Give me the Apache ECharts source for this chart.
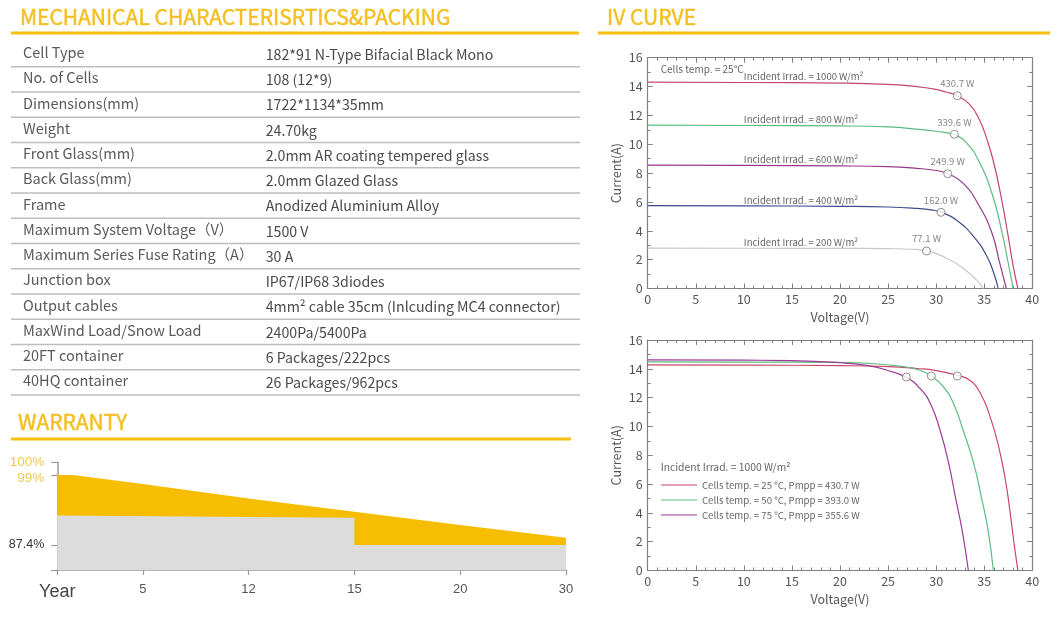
<!DOCTYPE html>
<html><head><meta charset="utf-8">
<script src="https://cdn.jsdelivr.net/npm/echarts@6/dist/echarts.min.js"></script>
<style>html,body{margin:0;padding:0;background:#fff}#c{width:1060px;height:622px}</style>
</head><body><div id="c"></div>
<script>
// ---------- Table data ----------
const specNames = ['Cell Type','No. of Cells','Dimensions(mm)','Weight','Front Glass(mm)','Back Glass(mm)','Frame',
  'Maximum System Voltage（V）','Maximum Series Fuse Rating（A）','Junction box','Output cables',
  'MaxWind Load/Snow Load','20FT container','40HQ container'];
const specValues = ['182*91 N-Type Bifacial Black Mono','108 (12*9)','1722*1134*35mm','24.70kg',
  '2.0mm AR coating tempered glass','2.0mm Glazed Glass','Anodized Aluminium Alloy','1500 V','30 A',
  'IP67/IP68 3diodes','4mm² cable 35cm (Inlcuding MC4 connector)','2400Pa/5400Pa','6 Packages/222pcs','26 Packages/962pcs'];

// ---------- Warranty data ----------
const warrantyTickPos = [0.192, 1, 2, 3, 4, 5];
const warrantyTickLabels = ['Year', '5', '12', '15', '20', '30'];
const warrantyLinear = [[0.192, 99], [0.34, 99], [1, 97.5], [2, 95.1], [3, 92.9], [4, 90.7], [5, 88.6]];
const warrantyStep = [[0.192, 92.3], [3, 91.9], [3, 87.4], [5, 87.4]];
const warrantyYTicks = [99, 87.4];
const warrantyYLabels = ['99%', '87.4%'];

// ---------- IV curve data (irradiance, 25°C) ----------
const irradLabels = ['1000', '800', '600', '400', '200'];
const iv1000 = [[0,14.3],[10,14.28],[20,14.24],[25,14.15],[28,14.0],[30,13.8],[31,13.62],[32.2,13.36],[33.5,12.75],[34.5,11.7],[35.3,10.3],[36,8.7],[36.8,6.2],[37.5,3.6],[38,1.6],[38.5,0]];
const iv800 = [[0,11.32],[10,11.3],[20,11.27],[25,11.2],[28,11.05],[30,10.9],[31.9,10.65],[33.2,10.06],[34.5,8.75],[35.8,6.6],[36.8,4.05],[37.5,1.75],[38,0]];
const iv600 = [[0,8.55],[10,8.53],[20,8.5],[25,8.45],[28,8.33],[30,8.18],[31.2,7.96],[32.8,7.3],[34.5,5.7],[35.8,3.85],[36.6,1.8],[37.3,0]];
const iv400 = [[0,5.75],[10,5.73],[20,5.7],[25,5.65],[28,5.55],[29.5,5.45],[30.5,5.3],[32.1,4.75],[33.9,3.6],[35.3,2.2],[36.1,0.85],[36.45,0]];
const iv200 = [[0,2.8],[10,2.79],[20,2.78],[25,2.76],[27.5,2.72],[29,2.62],[31.1,2.1],[32.8,1.4],[34.2,0.6],[34.9,0]];
const mppIrr = [[32.2,13.36],[31.9,10.69],[31.2,7.96],[30.5,5.28],[29.0,2.6]];
const mppIrrPower = ['430.7', '339.6', '249.9', '162.0', '77.1'];

// ---------- IV curve data (temperature, 1000 W/m²) ----------
const tempLabels = ['25', '50', '75'];
const tempPmpp = ['430.7', '393.0', '355.6'];
const ivT25 = [[0,14.28],[10,14.26],[20,14.22],[25,14.15],[28,14.02],[30,13.88],[32.2,13.55],[33.5,13.2],[34.6,12.3],[35.6,10.7],[36.5,8.6],[37.2,6.3],[37.7,4.0],[38.1,1.9],[38.5,0]];
const ivT50 = [[0,14.48],[10,14.47],[20,14.44],[23,14.38],[26.6,14.15],[28.3,13.9],[29.5,13.5],[30.7,12.8],[31.8,11.6],[32.8,9.75],[33.9,7.45],[34.7,5.1],[35.4,2.8],[35.95,0]];
const ivT75 = [[0,14.62],[10,14.6],[15,14.57],[20,14.42],[23.1,14.2],[24.9,13.9],[26.9,13.4],[28.3,12.65],[29.4,11.6],[30.4,9.75],[31.3,7.45],[32,5.1],[32.7,2.8],[33.35,0]];
const mppTemp = [[32.2,13.5],[29.5,13.5],[26.9,13.43]];

// ---------- styles ----------
const YEL = '#F3BF22';
const BAR = '#F6BE0E';
const CJK = '"Noto Sans CJK SC", "Noto Sans", sans-serif';
const irrColors = ['#C4466F', '#5DBB7E', '#97388A', '#3E4C8E', '#C8C8C8'];
const tempColors = ['#C9466F', '#5DBB7E', '#9B3B9A'];

const chart = echarts.init(document.getElementById('c'), null, {renderer: 'canvas'});

// graphics: headings and table
const g = [];
function heading(text, x, lx1, lx2, ty, ly) {
  g.push({type: 'text', style: {text, x, y: ty, fill: YEL, fontSize: 21, fontFamily: CJK, verticalAlign: 'middle',
    stroke: YEL, lineWidth: 0.5}});
  g.push({type: 'line', shape: {x1: lx1, y1: ly, x2: lx2, y2: ly}, style: {stroke: BAR, lineWidth: 3}});
}
heading('MECHANICAL CHARACTERISRTICS&PACKING', 20, 11, 579, 17, 33);
heading('IV CURVE', 607, 598, 1050, 17, 33);
heading('WARRANTY', 18, 11, 571, 422, 439);
const rowH = 25.26;
specNames.forEach((n, i) => {
  g.push({type: 'text', style: {text: n, x: 23, y: 52.5 + rowH * i, fill: '#5a5a5a', fontSize: 14.5, fontFamily: CJK, verticalAlign: 'middle'}});
  g.push({type: 'text', style: {text: specValues[i], x: 265.7, y: 54.5 + rowH * i, fill: '#4a4a4a', fontSize: 14.2, fontFamily: CJK, verticalAlign: 'middle'}});
  g.push({type: 'line', shape: {x1: 11, y1: 66.7 + rowH * i, x2: 580, y2: 66.7 + rowH * i}, style: {stroke: '#bdbdbd', lineWidth: 1.5}});
});
g.push({type: 'text', style: {text: 'Cells temp. = 25°C', x: 660.7, y: 69, fill: '#666', fontSize: 10, fontFamily: CJK, verticalAlign: 'middle'}});
g.push({type: 'text', style: {text: 'Incident Irrad. = 1000 W/m²', x: 660.7, y: 466.7, fill: '#666', fontSize: 10.3, fontFamily: CJK, verticalAlign: 'middle'}});

// IV axes helpers
const AX = '#808080';
function ivX(gi, pos, showLabel) {
  return {
    type: 'value', gridIndex: gi, position: pos, min: 0, max: 40, interval: 5,
    axisLine: {show: true, onZero: false, lineStyle: {color: AX, width: 1.2}},
    axisTick: {show: true, inside: true, length: 5, lineStyle: {color: AX}},
    minorTick: {show: true, splitNumber: 5, length: 3, lineStyle: {color: AX}},
    splitLine: {show: false},
    axisLabel: {show: showLabel, color: '#555', fontSize: 12.5, fontFamily: CJK, margin: 4},
    name: showLabel ? 'Voltage(V)' : '', nameLocation: 'middle', nameGap: 22,
    nameTextStyle: {color: '#555', fontSize: 12.5, fontFamily: CJK}
  };
}
function ivY(gi, pos, showLabel) {
  return {
    type: 'value', gridIndex: gi, position: pos, min: 0, max: 16, interval: 2,
    axisLine: {show: true, onZero: false, lineStyle: {color: AX, width: 1.2}},
    axisTick: {show: true, inside: true, length: 5, lineStyle: {color: AX}},
    minorTick: {show: true, splitNumber: 2, length: 3, lineStyle: {color: AX}},
    splitLine: {show: false},
    axisLabel: {show: showLabel, color: '#555', fontSize: 12.5, fontFamily: CJK, margin: 5},
    name: showLabel ? 'Current(A)' : '', nameLocation: 'middle', nameGap: 25,
    nameTextStyle: {color: '#555', fontSize: 12.5, fontFamily: CJK}
  };
}

const series = [];
// Warranty areas
series.push({
  type: 'line', xAxisIndex: 0, yAxisIndex: 0, data: warrantyLinear, symbol: 'none',
  lineStyle: {width: 0}, areaStyle: {color: '#F7BD00', opacity: 1, origin: 'start'}, z: 2
});
series.push({
  type: 'line', xAxisIndex: 0, yAxisIndex: 0, data: warrantyStep, symbol: 'none',
  lineStyle: {width: 0}, areaStyle: {color: '#DCDCDC', opacity: 1, origin: 'start'}, z: 3
});

// Irradiance curves
[iv1000, iv800, iv600, iv400, iv200].forEach((curve, k) => {
  series.push({
    type: 'line', xAxisIndex: 1, yAxisIndex: 1, symbol: 'circle', symbolSize: 0, showSymbol: true, showAllSymbol: true,
    smooth: 0.5,
    lineStyle: {color: irrColors[k], width: 1.2}, itemStyle: {color: irrColors[k]},
    data: curve.map((p, i) => i === 1 ? {
      value: p,
      label: {show: true, position: 'top', align: 'left', distance: 1,
        formatter: 'Incident Irrad. = ' + irradLabels[k] + ' W/m²', color: '#666', fontSize: 9.5, fontFamily: CJK}
    } : p),
    z: 3
  });
});
series.push({
  type: 'scatter', xAxisIndex: 1, yAxisIndex: 1, data: mppIrr, symbol: 'circle', symbolSize: 8,
  itemStyle: {color: '#fff', borderColor: '#777', borderWidth: 1},
  label: {show: true, position: 'top', distance: 3, color: '#666', fontSize: 9.5, fontFamily: CJK,
    formatter: p => mppIrrPower[p.dataIndex] + ' W'},
  z: 5
});

// Temperature curves
[ivT25, ivT50, ivT75].forEach((curve, k) => {
  series.push({
    name: 'Cells temp. = ' + tempLabels[k] + ' °C, Pmpp = ' + tempPmpp[k] + ' W',
    type: 'line', xAxisIndex: 3, yAxisIndex: 3, symbol: 'none', smooth: 0.5,
    lineStyle: {color: tempColors[k], width: 1.2}, itemStyle: {color: tempColors[k]},
    data: curve, z: 3
  });
});
series.push({
  type: 'scatter', xAxisIndex: 3, yAxisIndex: 3, data: mppTemp, symbol: 'circle', symbolSize: 8,
  itemStyle: {color: '#fff', borderColor: '#777', borderWidth: 1}, z: 5
});

const option = {
  animation: false,
  backgroundColor: '#fff',
  textStyle: {fontFamily: CJK},
  graphic: g,
  legend: {
    orient: 'vertical', left: 661, top: 479, padding: 0, icon: 'rect', itemWidth: 36, itemHeight: 1.2, itemGap: 3,
    textStyle: {color: '#666', fontSize: 9.6, fontFamily: CJK, lineHeight: 12},
    data: series.filter(s => s.name).map(s => s.name)
  },
  grid: [
    {left: 57.3, top: 462.3, width: 508.7, height: 107.7},
    {left: 647.7, top: 57.7, width: 384.6, height: 230.8},
    {left: 647.7, top: 340, width: 384.6, height: 230.5}
  ],
  xAxis: [
    {
      type: 'value', gridIndex: 0, min: 0.192, max: 5,
      axisLine: {show: true, onZero: false, lineStyle: {color: '#9a9a9a', width: 1.5}},
      axisTick: {show: true, length: 5, customValues: warrantyTickPos, lineStyle: {color: '#9a9a9a', width: 1.2}},
      axisLabel: {
        show: true, customValues: warrantyTickPos, margin: 13, color: '#555', fontSize: 13, fontFamily: 'Liberation Sans',
        formatter: v => {
          const i = warrantyTickPos.findIndex(p => Math.abs(p - v) < 1e-6);
          const t = i < 0 ? '' : warrantyTickLabels[i];
          return i === 0 ? '{yr|' + t + '}' : t;
        },
        rich: {yr: {fontSize: 18, color: '#444', fontFamily: 'Liberation Sans', padding: [0, 0, 4, 0]}}
      },
      splitLine: {show: false}
    },
    ivX(1, 'bottom', true), ivX(1, 'top', false),
    ivX(2, 'bottom', true), ivX(2, 'top', false)
  ],
  yAxis: [
    {
      type: 'value', gridIndex: 0, min: 83.257, max: 101.105,
      axisLine: {show: true, onZero: false, lineStyle: {color: '#9a9a9a', width: 1.5}},
      axisTick: {show: true, length: 6, customValues: [83.257, 87.4, 99, 101.105], lineStyle: {color: '#9a9a9a', width: 1.2}},
      axisLabel: {
        show: true, customValues: warrantyYTicks, margin: 13, fontFamily: 'Liberation Sans', fontSize: 13,
        formatter: v => {
          const i = warrantyYTicks.findIndex(p => Math.abs(p - v) < 1e-6);
          return i === 0 ? '{y|' + warrantyYLabels[i] + '}' : '{d|' + warrantyYLabels[i] + '}';
        },
        rich: {
          y: {color: '#F0C850', fontSize: 13.5, fontFamily: 'Liberation Sans', padding: [6, 0, 0, 0]},
          d: {color: '#333', fontSize: 12.5, fontFamily: 'Liberation Sans'}
        }
      },
      name: '100%', nameLocation: 'end', nameGap: 0,
      nameTextStyle: {color: '#F0C850', fontSize: 13.5, fontFamily: 'Liberation Sans', align: 'right', verticalAlign: 'middle', padding: [0, 13, 0, 0]},
      splitLine: {show: false}
    },
    ivY(1, 'left', true), ivY(1, 'right', false),
    ivY(2, 'left', true), ivY(2, 'right', false)
  ],
  series
};
chart.setOption(option);
</script>
</body></html>
